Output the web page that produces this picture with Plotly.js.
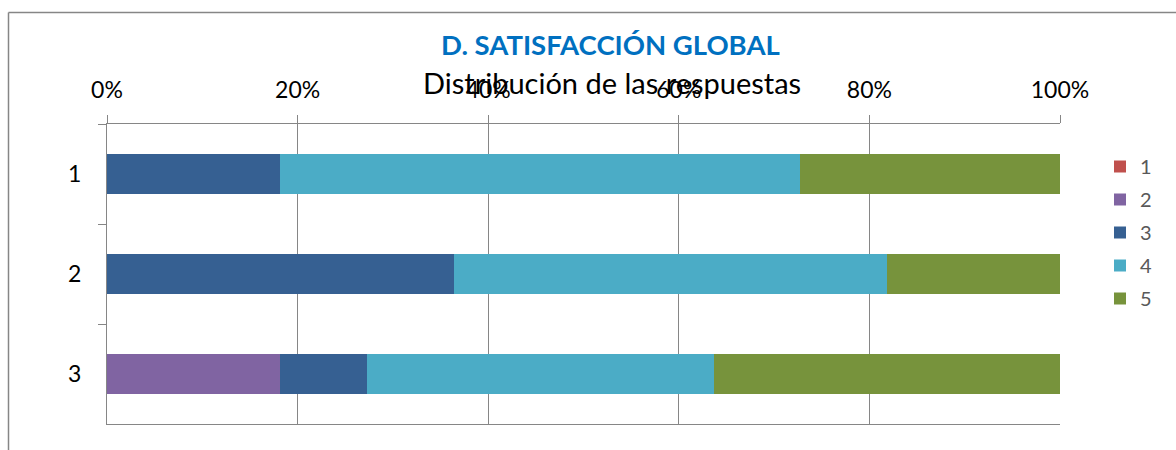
<!DOCTYPE html>
<html>
<head>
<meta charset="utf-8">
<script src="https://cdn.plot.ly/plotly-3.0.1.min.js"></script>
<style>html,body{margin:0;padding:0;background:#fff}#chart{width:1176px;height:450px}</style>
</head>
<body>
<div id="chart"></div>
<script>
// Data (percent of responses per question)
const categories = ["1", "2", "3"];
const seriesNames = ["1", "2", "3", "4", "5"];
const s1 = [0, 0, 0];
const s2 = [0, 0, 18.2];
const s3 = [18.2, 36.4, 9.1];
const s4 = [54.5, 45.4, 36.4];
const s5 = [27.3, 18.2, 36.3];
const xTickVals = [0, 20, 40, 60, 80, 100];
const xTickText = ["0%", "20%", "40%", "60%", "80%", "100%"];
const colors = ["#C0504D", "#8064A2", "#366092", "#4BACC6", "#77933C"];

const values = [s1, s2, s3, s4, s5];
const traces = values.map((v, i) => ({
  type: "bar",
  orientation: "h",
  name: seriesNames[i],
  legendgroup: "g" + i,
  x: v,
  y: categories,
  width: 0.4,
  marker: {color: colors[i], line: {width: 0}},
  hoverinfo: "x+name"
}));

const FONT = "Lato, 'Open Sans', sans-serif";
const GRID = "#868686";

const L = 107, R = 1060, T = 124, B = 424;
const px2x = p => (p - L) / (R - L);
const px2y = p => (B - p) / (B - T);

const layout = {
  width: 1176, height: 450,
  margin: {l: L, r: 1176 - R, t: T, b: 450 - B, pad: 0},
  paper_bgcolor: "#ffffff",
  plot_bgcolor: "#ffffff",
  barmode: "stack",
  bargap: 0.6,
  showlegend: true,
  font: {family: FONT, color: "#000000"},
  xaxis: {
    side: "top",
    range: [0, 100],
    tickvals: xTickVals,
    ticktext: xTickText,
    showgrid: true, gridcolor: GRID, gridwidth: 1,
    zeroline: false,
    showline: true, linecolor: GRID, linewidth: 1, mirror: true,
    ticks: "outside", ticklen: 8, tickcolor: GRID, tickwidth: 1,
    ticklabelstandoff: 8,
    tickfont: {family: FONT, size: 23, color: "#000000"},
    fixedrange: true
  },
  yaxis: {
    type: "category",
    autorange: "reversed",
    showgrid: false,
    zeroline: false,
    showline: true, linecolor: GRID, linewidth: 1,
    ticks: "outside", ticklen: 8, tickcolor: GRID, tickwidth: 1,
    tickson: "boundaries",
    ticklabelstandoff: 20,
    tickfont: {family: FONT, size: 23, color: "#000000"},
    fixedrange: true
  },
  legend: {
    x: px2x(1100), xanchor: "left",
    y: px2y(147), yanchor: "top",
    traceorder: "grouped",
    tracegroupgap: 4,
    font: {family: FONT, size: 20, color: "#595959"},
    bgcolor: "rgba(0,0,0,0)"
  },
  annotations: [
    {
      text: "<b>D. SATISFACCIÓN GLOBAL</b>",
      xref: "paper", yref: "paper",
      x: px2x(610), y: px2y(44), xanchor: "center", yanchor: "middle",
      showarrow: false,
      font: {family: FONT, size: 27.5, color: "#0070C0"}
    },
    {
      text: "Distribución de las respuestas",
      xref: "paper", yref: "paper",
      x: px2x(612), y: px2y(83), xanchor: "center", yanchor: "middle",
      showarrow: false,
      font: {family: FONT, size: 29, color: "#000000"}
    }
  ],
  shapes: [
    {type: "line", xref: "paper", yref: "paper",
     x0: px2x(8.5), x1: px2x(8.5), y0: px2y(460), y1: px2y(12.5),
     line: {color: GRID, width: 1.5}},
    {type: "line", xref: "paper", yref: "paper",
     x0: px2x(8.5), x1: px2x(1200), y0: px2y(12.5), y1: px2y(12.5),
     line: {color: GRID, width: 1.5}}
  ]
};

Plotly.newPlot("chart", traces, layout, {displayModeBar: false, staticPlot: true});
</script>
</body>
</html>
